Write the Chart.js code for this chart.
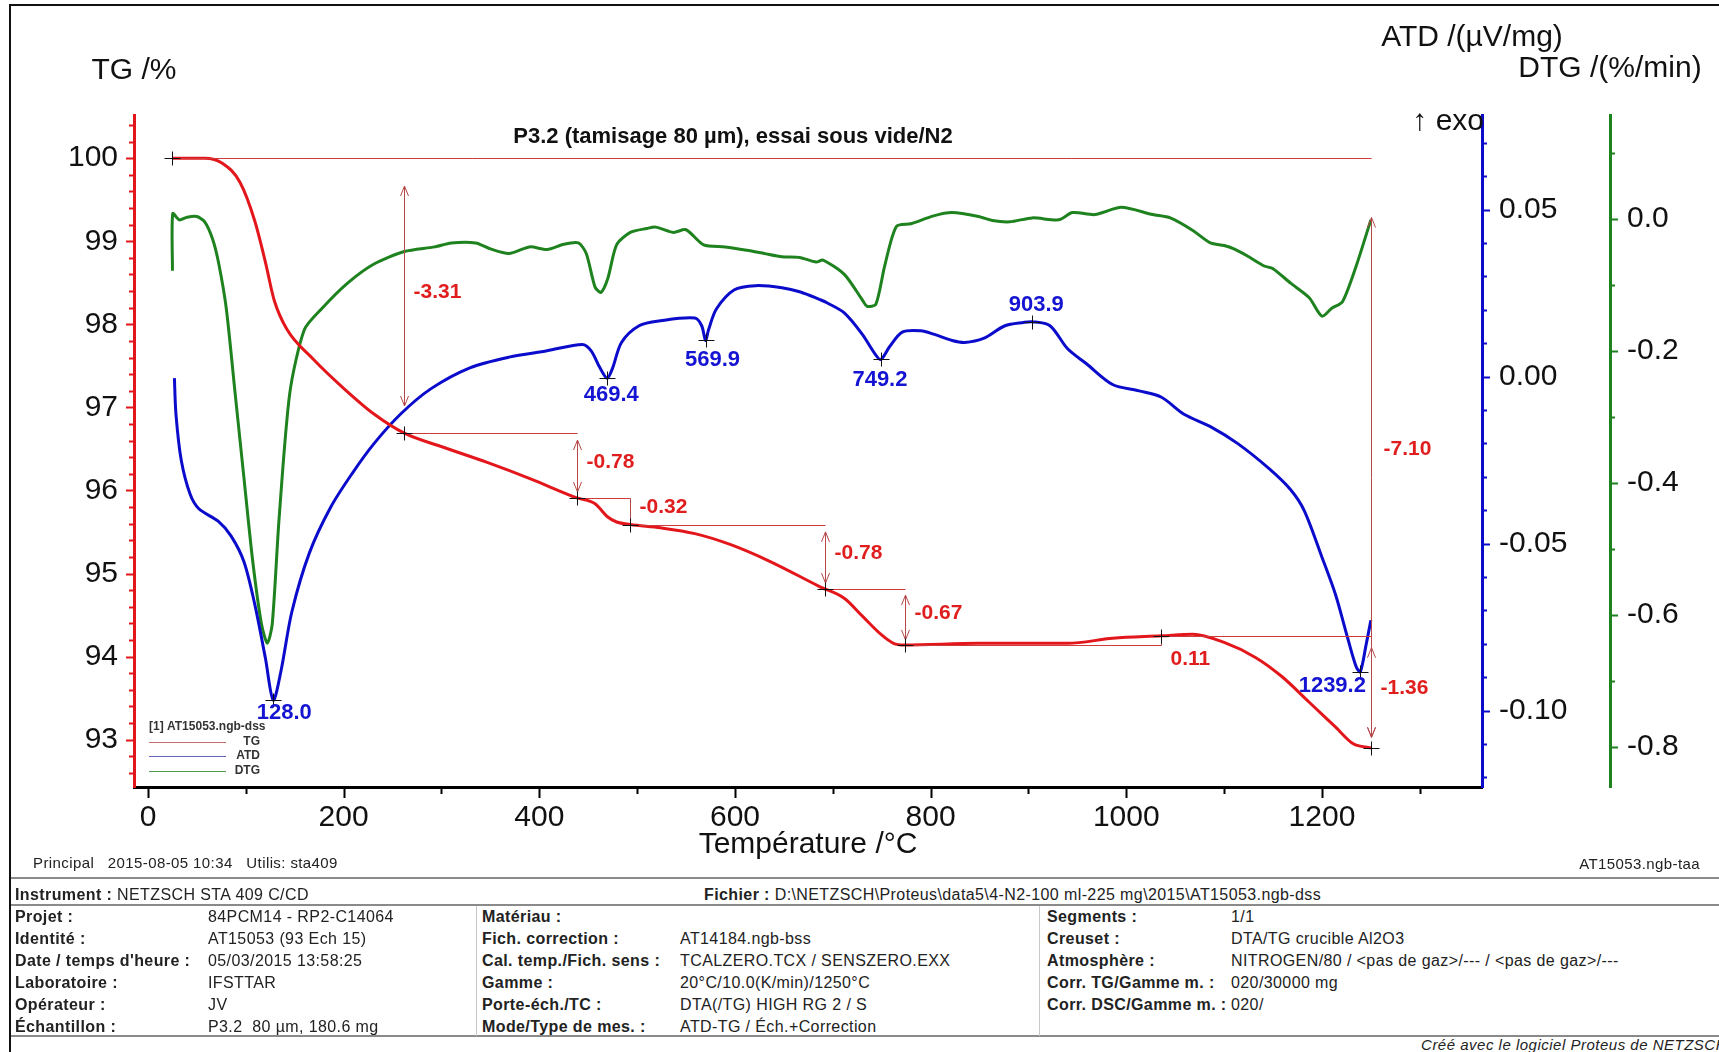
<!DOCTYPE html>
<html lang="fr">
<head>
<meta charset="UTF-8" />
<title>P3.2 (tamisage 80 µm), essai sous vide/N2</title>
<script src="https://cdn.jsdelivr.net/npm/chart.js"></script>
<style>
  html, body { margin: 0; padding: 0; background: #fff; }
  body { width: 1719px; height: 1052px; position: relative; overflow: hidden;
         font-family: 'Liberation Sans', Arial, Helvetica, sans-serif; color: #222; }
  #chart { position: absolute; left: 0; top: 0; }
  .frame-top { position: absolute; left: 9px; top: 4px; width: 1710px; height: 2px; background: #111; }
  .frame-left { position: absolute; left: 9px; top: 4px; width: 2px; height: 1048px; background: #111; }
  .hline { position: absolute; left: 11px; width: 1708px; height: 2px; background: #8a8a8a; }
  .vline { position: absolute; top: 906px; height: 130px; width: 1px; background: #c8c8c8; }
  .t { position: absolute; font-size: 16px; letter-spacing: 0.4px; line-height: 20px; white-space: pre; color: #222; }
  .b { font-weight: bold; }
  .small { font-size: 15px; letter-spacing: 0.4px; }
  .credit { position: absolute; right: -8px; top: 1036px; font-size: 15px; letter-spacing: 0.5px; font-style: italic; white-space: pre; color: #222; }
</style>
</head>
<body>
<canvas id="chart" width="1719" height="878"></canvas>

<div class="frame-top"></div>
<div class="frame-left"></div>

<div class="t small" style="left:33px; top:853px;">Principal   2015-08-05 10:34   Utilis: sta409</div>
<div class="t small" style="right:19px; top:854px;">AT15053.ngb-taa</div>

<div class="hline" style="top:877px;"></div>
<div class="hline" style="top:904px;"></div>
<div class="hline" style="top:1035px;"></div>
<div class="vline" style="left:476px;"></div>
<div class="vline" style="left:1039px;"></div>

<div class="t" style="left:15px; top:885px;"><span class="b">Instrument :</span> NETZSCH STA 409 C/CD</div>
<div class="t" style="left:704px; top:885px;"><span class="b">Fichier :</span> D:\NETZSCH\Proteus\data5\4-N2-100 ml-225 mg\2015\AT15053.ngb-dss</div>

<div class="t b" style="left:15px; top:907px;">Projet :</div>
<div class="t" style="left:208px; top:907px;">84PCM14 - RP2-C14064</div>
<div class="t b" style="left:15px; top:929px;">Identité :</div>
<div class="t" style="left:208px; top:929px;">AT15053 (93 Ech 15)</div>
<div class="t b" style="left:15px; top:951px;">Date / temps d'heure :</div>
<div class="t" style="left:208px; top:951px;">05/03/2015 13:58:25</div>
<div class="t b" style="left:15px; top:973px;">Laboratoire :</div>
<div class="t" style="left:208px; top:973px;">IFSTTAR</div>
<div class="t b" style="left:15px; top:995px;">Opérateur :</div>
<div class="t" style="left:208px; top:995px;">JV</div>
<div class="t b" style="left:15px; top:1017px;">Échantillon :</div>
<div class="t" style="left:208px; top:1017px;">P3.2  80 µm, 180.6 mg</div>

<div class="t b" style="left:482px; top:907px;">Matériau :</div>
<div class="t b" style="left:482px; top:929px;">Fich. correction :</div>
<div class="t" style="left:680px; top:929px;">AT14184.ngb-bss</div>
<div class="t b" style="left:482px; top:951px;">Cal. temp./Fich. sens :</div>
<div class="t" style="left:680px; top:951px;">TCALZERO.TCX / SENSZERO.EXX</div>
<div class="t b" style="left:482px; top:973px;">Gamme :</div>
<div class="t" style="left:680px; top:973px;">20°C/10.0(K/min)/1250°C</div>
<div class="t b" style="left:482px; top:995px;">Porte-éch./TC :</div>
<div class="t" style="left:680px; top:995px;">DTA(/TG) HIGH RG 2 / S</div>
<div class="t b" style="left:482px; top:1017px;">Mode/Type de mes. :</div>
<div class="t" style="left:680px; top:1017px;">ATD-TG / Éch.+Correction</div>

<div class="t b" style="left:1047px; top:907px;">Segments :</div>
<div class="t" style="left:1231px; top:907px;">1/1</div>
<div class="t b" style="left:1047px; top:929px;">Creuset :</div>
<div class="t" style="left:1231px; top:929px;">DTA/TG crucible Al2O3</div>
<div class="t b" style="left:1047px; top:951px;">Atmosphère :</div>
<div class="t" style="left:1231px; top:951px;">NITROGEN/80 / &lt;pas de gaz&gt;/--- / &lt;pas de gaz&gt;/---</div>
<div class="t b" style="left:1047px; top:973px;">Corr. TG/Gamme m. :</div>
<div class="t" style="left:1231px; top:973px;">020/30000 mg</div>
<div class="t b" style="left:1047px; top:995px;">Corr. DSC/Gamme m. :</div>
<div class="t" style="left:1231px; top:995px;">020/</div>

<div class="credit">Créé avec le logiciel Proteus de NETZSCH</div>

<script>
// ---- data ----
const tgTemp = [25, 58, 76, 94, 109, 120, 129, 142, 169, 200, 231, 262, 302, 346, 391, 438.5, 457, 470, 479, 493,
  524, 559, 595, 635, 687, 712, 730, 749, 762, 773.7, 849, 940, 986, 1036, 1068, 1100, 1132, 1159, 1187, 1214, 1232, 1250];
const tgMass = [100, 100, 99.94, 99.71, 99.25, 98.75, 98.29, 97.94, 97.58, 97.23, 96.92, 96.69, 96.52, 96.34, 96.14, 95.91, 95.84, 95.68, 95.62, 95.59,
  95.55, 95.48, 95.35, 95.15, 94.84, 94.70, 94.49, 94.27, 94.16, 94.14, 94.16, 94.16, 94.22, 94.25, 94.27, 94.17, 93.99, 93.76, 93.45, 93.15, 92.95, 92.90];

const atdTemp = [27, 28.6, 34, 43, 52, 72, 85, 98, 109, 120, 128, 136, 147, 165, 187, 209, 231, 258, 289, 329,
  369, 408, 444, 453, 462, 469.4, 475, 484, 502, 524, 559, 566, 569.9, 573, 581, 599, 621, 648, 667, 687,
  694, 712, 730, 744, 749.2, 758, 771, 790, 803, 822, 835, 854, 876, 895, 903.9, 922, 940, 959, 986, 1013,
  1036, 1059, 1086, 1114, 1146, 1168, 1182, 1200, 1214, 1226, 1235, 1239.2, 1245, 1250];
const atdSignal = [-0.0005, -0.0113, -0.0251, -0.0352, -0.0396, -0.0434, -0.0478, -0.0554, -0.068, -0.0843, -0.0969, -0.0881, -0.0705, -0.0528, -0.039, -0.0289, -0.0201, -0.0113, -0.0037, 0.0026,
  0.0058, 0.0077, 0.0096, 0.0077, 0.0026, -0.0005, 0.0026, 0.0102, 0.0152, 0.0167, 0.0175, 0.0152, 0.0108, 0.014, 0.0202, 0.0259, 0.0272, 0.0266, 0.0253, 0.023,
  0.0221, 0.019, 0.0127, 0.0064, 0.0051, 0.0089, 0.0133, 0.0137, 0.0127, 0.0108, 0.0102, 0.0114, 0.0152, 0.0162, 0.0164, 0.0152, 0.0083, 0.0039, -0.0024, -0.0043,
  -0.0062, -0.0113, -0.015, -0.0201, -0.0276, -0.0339, -0.0402, -0.0541, -0.0654, -0.078, -0.0869, -0.0884, -0.0805, -0.073];

const dtgTemp = [25, 25.3, 32, 40, 50, 58, 66, 72, 80, 89, 98, 107, 116, 122, 127, 134, 145, 160, 178, 204,
  231, 262, 293, 310, 335, 350, 369, 390, 408, 425, 440, 448, 457, 463, 470, 479, 493, 510, 519, 537,
  550, 568, 590, 612, 630, 648, 666, 683, 690, 712, 730, 735, 744, 753, 765, 780, 803, 822, 849, 863,
  881, 904, 931, 945, 968, 995, 1027, 1045, 1068, 1086, 1100, 1110, 1123, 1141, 1150, 1168, 1187, 1200, 1210, 1221,
  1235, 1250];
const dtgRate = [-0.078, 0.0085, -0.001, 0.003, 0.004, -0.004, -0.03, -0.065, -0.135, -0.263, -0.391, -0.518, -0.614, -0.643, -0.614, -0.454, -0.263, -0.167, -0.135, -0.097,
  -0.068, -0.049, -0.042, -0.036, -0.036, -0.045, -0.052, -0.042, -0.046, -0.038, -0.036, -0.052, -0.103, -0.111, -0.09, -0.039, -0.02, -0.014, -0.012, -0.02,
  -0.016, -0.039, -0.042, -0.047, -0.052, -0.057, -0.058, -0.065, -0.062, -0.084, -0.122, -0.132, -0.129, -0.071, -0.011, -0.007, 0.005, 0.01, 0.004, -0.002,
  -0.004, 0.002, -0.001, 0.01, 0.007, 0.018, 0.007, 0.002, -0.017, -0.036, -0.04, -0.045, -0.055, -0.071, -0.075, -0.097, -0.119, -0.147, -0.135, -0.125,
  -0.071, -0.001];

// mass-loss steps (TG evaluation)
const stepTemps = [25, 262, 438.5, 492.7, 692, 773.7, 1035.5, 1250];
const stepMass = [100, 96.69, 95.91, 95.59, 94.81, 94.14, 94.25, 92.90];
const stepLabels = ['-3.31', '-0.78', '-0.32', '-0.78', '-0.67', '0.11', '-1.36'];
const totalLabel = '-7.10';

// ATD peaks
const peakTemps = [128.0, 469.4, 569.9, 749.2, 903.9, 1239.2];
const peakValues = [-0.0969, -0.0005, 0.0108, 0.0051, 0.0164, -0.0884];
const peakLabels = ['128.0', '469.4', '569.9', '749.2', '903.9', '1239.2'];

// axes ticks
const xTicks = [0, 200, 400, 600, 800, 1000, 1200];
const tgTicks = [93, 94, 95, 96, 97, 98, 99, 100];
const atdTicks = [-0.10, -0.05, 0.00, 0.05];
const atdTickLabels = ['-0.10', '-0.05', '0.00', '0.05'];
const dtgTicks = [-0.8, -0.6, -0.4, -0.2, 0.0];
const dtgTickLabels = ['-0.8', '-0.6', '-0.4', '-0.2', '0.0'];

// ---- styling ----
const RED = '#e3161b', BLUE = '#0b0bcc', GREEN = '#1e821e';
const FONT = "'Liberation Sans', Arial, Helvetica, sans-serif";
Chart.defaults.font.family = FONT;
Chart.defaults.color = '#111';

const pts = (xs, ys) => xs.map((t, i) => ({ x: t, y: ys[i] }));

function tickMarks(ctx, scale, side, from, to, step, majorEvery, majorLen, minorLen, color) {
  const i0 = Math.ceil(from / step - 1e-6), i1 = Math.floor(to / step + 1e-6);
  ctx.strokeStyle = color;
  ctx.lineWidth = 2;
  ctx.beginPath();
  for (let i = i0; i <= i1; i++) {
    const len = i % majorEvery === 0 ? majorLen : minorLen;
    const p = Math.round(scale.getPixelForValue(i * step)) + 0.5;
    if (side === 'bottom') {
      ctx.moveTo(p, scale.top); ctx.lineTo(p, scale.top + len);
    } else if (side === 'left') {
      ctx.moveTo(scale.right, p); ctx.lineTo(scale.right - len, p);
    } else {
      ctx.moveTo(scale.left, p); ctx.lineTo(scale.left + len, p);
    }
  }
  ctx.stroke();
}

function vArrow(ctx, px, ya, yb) {
  const d = yb > ya ? 1 : -1;
  ctx.moveTo(px, ya); ctx.lineTo(px, yb);
  ctx.moveTo(px - 4, ya + d * 10); ctx.lineTo(px, ya); ctx.lineTo(px + 4, ya + d * 10);
  ctx.moveTo(px - 4, yb - d * 10); ctx.lineTo(px, yb); ctx.lineTo(px + 4, yb - d * 10);
}

function cross(ctx, px, py) {
  ctx.moveTo(px - 8, py); ctx.lineTo(px + 8, py);
  ctx.moveTo(px, py - 7); ctx.lineTo(px, py + 7);
}

const overlay = {
  id: 'netzschOverlay',
  afterDraw(chart) {
    const { ctx, chartArea: a } = chart;
    const { x, tg, atd, dtg } = chart.scales;
    ctx.save();

    // axis tick marks (major + minor)
    tickMarks(ctx, x, 'bottom', 0, 1300, 100, 2, 11, 7, '#000');
    tickMarks(ctx, tg, 'left', tg.min, tg.max, 0.2, 5, 8, 5, RED);
    tickMarks(ctx, atd, 'right', atd.min, atd.max, 0.01, 5, 8, 5, BLUE);
    tickMarks(ctx, dtg, 'right', dtg.min, dtg.max, 0.1, 2, 8, 5, GREEN);

    // TG step evaluation
    const X = (t) => Math.round(x.getPixelForValue(t)) + 0.5;
    const Y = (m) => Math.round(tg.getPixelForValue(m)) + 0.5;
    const n = stepTemps.length;
    ctx.lineWidth = 1;
    ctx.strokeStyle = '#cf3a3a';
    ctx.beginPath();
    ctx.moveTo(X(stepTemps[0]), Y(stepMass[0])); ctx.lineTo(X(stepTemps[n - 1]), Y(stepMass[0]));
    for (let i = 1; i < n - 1; i++) {
      ctx.moveTo(X(stepTemps[i]), Y(stepMass[i])); ctx.lineTo(X(stepTemps[i + 1]), Y(stepMass[i]));
    }
    ctx.stroke();

    ctx.strokeStyle = '#b54848';
    ctx.beginPath();
    for (let i = 0; i < n - 1; i++) {
      const px = X(stepTemps[i + 1]);
      const ya = Y(stepMass[i]), yb = Y(stepMass[i + 1]);
      if (Math.abs(yb - ya) > 40) {
        const inset = (yb - ya) * 0.1;
        vArrow(ctx, px, ya + inset, yb - inset);
      } else {
        ctx.moveTo(px, ya); ctx.lineTo(px, yb);
      }
    }
    // total loss arrow
    const pxT = X(stepTemps[n - 1]);
    const yTop = Y(stepMass[0]), yBot = Y(stepMass[n - 1]);
    const lastSpan = yBot - Y(stepMass[n - 2]);
    vArrow(ctx, pxT, yTop + (yBot - yTop) * 0.1, yBot - lastSpan * 0.1);
    ctx.stroke();

    ctx.strokeStyle = '#111';
    ctx.beginPath();
    for (let i = 0; i < n; i++) cross(ctx, X(stepTemps[i]), Y(stepMass[i]));
    ctx.stroke();

    ctx.fillStyle = '#e01e1e';
    ctx.font = 'bold 21px ' + FONT;
    ctx.textAlign = 'left';
    ctx.textBaseline = 'middle';
    for (let i = 0; i < n - 1; i++) {
      const px = X(stepTemps[i + 1]) + 9;
      const up = stepMass[i + 1] > stepMass[i];
      const py = up ? Y(stepMass[i]) + 14 : Y((stepMass[i] + stepMass[i + 1]) / 2) - 4;
      ctx.fillText(stepLabels[i], px, py);
    }
    ctx.fillText(totalLabel, pxT + 12, Y((stepMass[0] + stepMass[n - 1]) / 2) - 4);

    // ATD peaks
    const peakOffsets = [[11, 13], [4, 17], [7, 19], [-1, 20], [4, -17], [-28, 14]];
    ctx.strokeStyle = '#111';
    ctx.beginPath();
    for (let i = 0; i < peakTemps.length; i++) {
      cross(ctx, X(peakTemps[i]), Math.round(atd.getPixelForValue(peakValues[i])) + 0.5);
    }
    ctx.stroke();
    ctx.fillStyle = '#1414d2';
    ctx.font = 'bold 22px ' + FONT;
    ctx.textAlign = 'center';
    for (let i = 0; i < peakTemps.length; i++) {
      const px = x.getPixelForValue(peakTemps[i]) + peakOffsets[i][0];
      const py = atd.getPixelForValue(peakValues[i]) + peakOffsets[i][1];
      ctx.fillText(peakLabels[i], px, py);
    }

    // chart title
    ctx.fillStyle = '#111';
    ctx.font = 'bold 22px ' + FONT;
    ctx.fillText('P3.2 (tamisage 80 µm), essai sous vide/N2', 733, 137);

    // axis titles
    ctx.font = '30px ' + FONT;
    ctx.fillText('TG /%', tg.right, 71);
    ctx.fillText('ATD /(µV/mg)', 1472, 38);
    ctx.fillText('DTG /(%/min)', dtg.left, 69);
    ctx.textAlign = 'right';
    ctx.font = '30px ' + FONT;
    ctx.fillText('↑ exo', atd.left + 2, 122);

    // legend box
    const lx = a.left + 15, ly = a.bottom;
    ctx.textAlign = 'left';
    ctx.fillStyle = '#333';
    ctx.font = 'bold 12px ' + FONT;
    ctx.fillText('[1] AT15053.ngb-dss', lx, ly - 60);
    const legend = [['TG', '#c86e6e', 45], ['ATD', '#6464be', 31], ['DTG', '#4b9a4b', 16]];
    ctx.lineWidth = 1;
    legend.forEach(([name, col, dy]) => {
      ctx.strokeStyle = col;
      ctx.beginPath();
      ctx.moveTo(lx, Math.round(ly - dy) + 0.5); ctx.lineTo(lx + 77, Math.round(ly - dy) + 0.5);
      ctx.stroke();
      ctx.textAlign = 'right';
      ctx.fillText(name, lx + 111, ly - dy);
    });

    ctx.restore();
  }
};

new Chart(document.getElementById('chart'), {
  type: 'line',
  data: {
    datasets: [
      { label: 'TG', data: pts(tgTemp, tgMass), yAxisID: 'tg', borderColor: RED, borderWidth: 3,
        pointRadius: 0, cubicInterpolationMode: 'monotone', fill: false },
      { label: 'ATD', data: pts(atdTemp, atdSignal), yAxisID: 'atd', borderColor: BLUE, borderWidth: 3,
        pointRadius: 0, tension: 0.3, fill: false },
      { label: 'DTG', data: pts(dtgTemp, dtgRate), yAxisID: 'dtg', borderColor: GREEN, borderWidth: 3,
        pointRadius: 0, tension: 0.25, fill: false }
    ]
  },
  options: {
    responsive: false,
    animation: false,
    events: [],
    layout: { padding: { left: 14, right: 0, top: 115, bottom: 0 } },
    plugins: { legend: { display: false }, tooltip: { enabled: false } },
    scales: {
      x: {
        type: 'linear', position: 'bottom', min: -14.3, max: 1363.6,
        grid: { display: false, drawTicks: false },
        border: { color: '#000', width: 3 },
        afterBuildTicks: (s) => { s.ticks = xTicks.map((v) => ({ value: v })); },
        ticks: { font: { size: 30 }, color: '#111', padding: 13, callback: (v, i) => String(xTicks[i]) },
        title: { display: true, text: 'Température /°C', font: { size: 30 }, color: '#111', padding: { top: 0, bottom: 15 } },
        afterFit: (s) => { s.height = 91; }
      },
      tg: {
        type: 'linear', position: 'left', min: 92.43, max: 100.52,
        grid: { display: false, drawTicks: false },
        border: { color: RED, width: 3 },
        afterBuildTicks: (s) => { s.ticks = tgTicks.map((v) => ({ value: v })); },
        ticks: { font: { size: 30 }, color: '#111', padding: 16, callback: (v, i) => String(tgTicks[i]) },
        afterFit: (s) => { s.width = 120; }
      },
      atd: {
        type: 'linear', position: 'right', min: -0.1229, max: 0.0783,
        grid: { display: false, drawTicks: false },
        border: { color: BLUE, width: 3 },
        afterBuildTicks: (s) => { s.ticks = atdTicks.map((v) => ({ value: v })); },
        ticks: { font: { size: 30 }, color: '#111', padding: 17, callback: (v, i) => atdTickLabels[i] },
        afterFit: (s) => { s.width = 128; }
      },
      dtg: {
        type: 'linear', position: 'right', min: -0.861, max: 0.158,
        grid: { display: false, drawTicks: false },
        border: { color: GREEN, width: 3 },
        afterBuildTicks: (s) => { s.ticks = dtgTicks.map((v) => ({ value: v })); },
        ticks: { font: { size: 30 }, color: '#111', padding: 17, callback: (v, i) => dtgTickLabels[i] },
        afterFit: (s) => { s.width = 109; }
      }
    }
  },
  plugins: [overlay]
});
</script>
</body>
</html>
